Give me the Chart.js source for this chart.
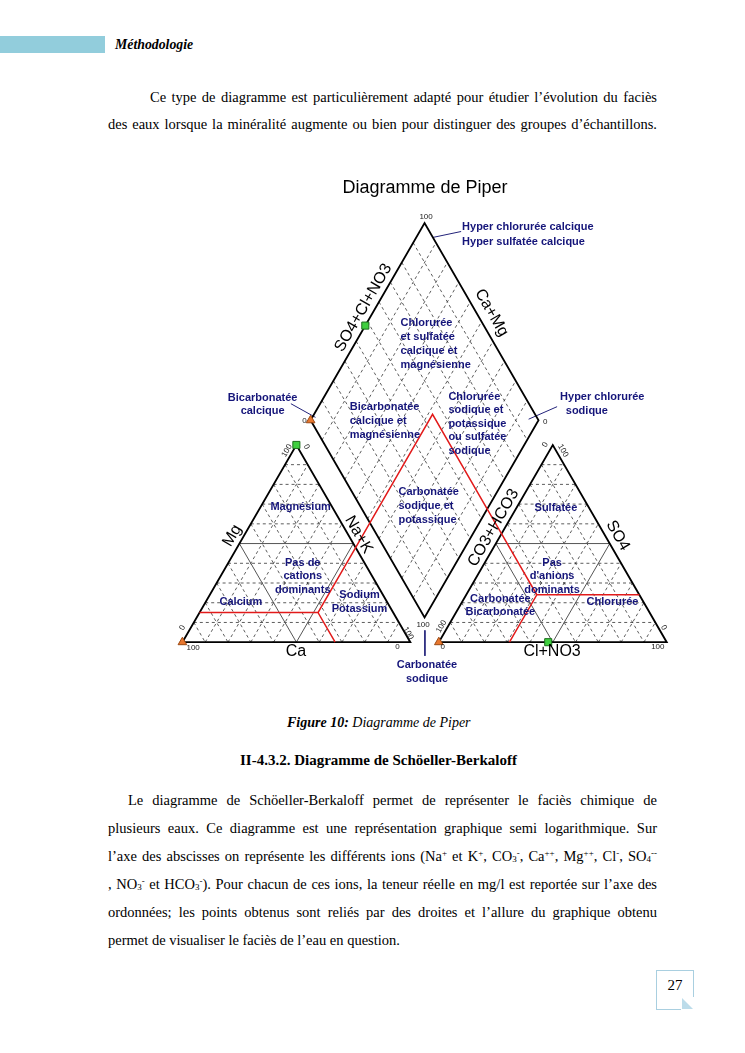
<!DOCTYPE html>
<html>
<head>
<meta charset="utf-8">
<script src="https://cdn.jsdelivr.net/npm/chart.js"></script>
<style>
  body { margin: 0; background: #fff; }
  #page { position: relative; width: 745px; height: 1053px; font-family: "Liberation Serif", "Times New Roman", serif; color: #000; overflow: hidden; }
  .bar { position: absolute; left: 0; top: 36px; width: 105px; height: 17px; background: #92cddc; }
  .head { position: absolute; left: 115px; top: 36px; font-size: 13.8px; line-height: 18px; font-weight: bold; font-style: italic; }
  .ln { position: absolute; font-size: 14.5px; line-height: 20px; white-space: nowrap; }
  .j { text-align: justify; text-align-last: justify; white-space: normal; height: 20px; overflow: visible; }
  sup { font-size: 0.62em; vertical-align: 0.55em; line-height: 0; }
  sub { font-size: 0.62em; vertical-align: -0.15em; line-height: 0; }
  .cap { position: absolute; left: 287px; top: 714px; font-size: 14px; line-height: 18px; font-style: italic; white-space: nowrap; }
  .sec { position: absolute; left: 240px; top: 750px; font-size: 15px; line-height: 20px; font-weight: bold; white-space: nowrap; }
  #piperChart { position: absolute; left: 150px; top: 165px; }
  .pnum { position: absolute; left: 656px; top: 970px; width: 36px; height: 38px; border: 1px solid #a9cfe0; border-right: none; border-bottom: none; }
  .pnum .r { position: absolute; right: -1px; top: -1px; width: 1px; height: 27px; background: #a9cfe0; }
  .pnum .b { position: absolute; left: -1px; bottom: -1px; width: 25px; height: 1px; background: #a9cfe0; }
  .pnum .fold { position: absolute; right: 0; bottom: 0; width: 0; height: 0; border-left: 11px solid #bcdcea; border-top: 11px solid transparent; }
  .pnum span { position: absolute; left: 0; width: 36px; top: 6px; text-align: center; font-size: 15px; }
</style>
</head>
<body>
<div id="page">
  <div class="bar"></div>
  <div class="head">Méthodologie</div>

  <div class="ln j" style="left:150px; top:87px; width:507px;">Ce type de diagramme est particulièrement adapté pour étudier l’évolution du faciès</div>
  <div class="ln j" style="left:108px; top:114px; width:549px;">des eaux lorsque la minéralité augmente ou bien pour distinguer des groupes d’échantillons.</div>

  <canvas id="piperChart" width="550" height="535"></canvas>

  <div class="cap"><b>Figure 10:</b> Diagramme de Piper</div>
  <div class="sec">II-4.3.2. Diagramme de Schöeller-Berkaloff</div>

  <div class="ln j" style="left:128px; top:790px; width:529px;">Le diagramme de Schöeller-Berkaloff permet de représenter le faciès chimique de</div>
  <div class="ln j" style="left:108px; top:818px; width:549px;">plusieurs eaux. Ce diagramme est une représentation graphique semi logarithmique. Sur</div>
  <div class="ln j" style="left:108px; top:846px; width:549px;">l’axe des abscisses on représente les différents ions (Na<sup>+</sup> et K<sup>+</sup>, CO<sub>3</sub><sup>-</sup>, Ca<sup>++</sup>, Mg<sup>++</sup>, Cl<sup>-</sup>, SO<sub>4</sub><sup>--</sup></div>
  <div class="ln j" style="left:108px; top:874px; width:549px;">, NO<sub>3</sub><sup>-</sup> et HCO<sub>3</sub><sup>-</sup>). Pour chacun de ces ions, la teneur réelle en mg/l est reportée sur l’axe des</div>
  <div class="ln j" style="left:108px; top:902px; width:549px;">ordonnées; les points obtenus sont reliés par des droites et l’allure du graphique obtenu</div>
  <div class="ln" style="left:108px; top:930px;">permet de visualiser le faciès de l’eau en question.</div>

  <div class="pnum"><div class="r"></div><div class="b"></div><div class="fold"></div><span>27</span></div>
</div>

<script>
  // échantillons (% meq)
  var sampleNames = ['Echantillon 1', 'Echantillon 2'];
  var pctCa   = [100, 0];
  var pctMg   = [0, 100];
  var pctNaK  = [0, 0];
  var pctHCO3 = [100, 52];
  var pctSO4  = [0, 0];
  var pctCl   = [0, 48];

  // lignes de la grille (%)
  var gridPct = [10, 20, 30, 40, 50, 60, 70, 80, 90];
  var midPct = 50;

  // limites des faciès (traits rouges, %)
  var limMg = 15;
  var limNaK = 52;
  var limCa = 33;
  var limSO4Cl = 55;
  var limSO4 = 24;
  var limCl = 31;

  // geometrie du diagramme
  var GAP = 12.5;
  var SQ = Math.sqrt(3) / 2;
  var PX = 2.33, OX = 27, OY = 482, CW = 550, CH = 535;

  function cationXY(ca, mg, na) { return { x: na + mg / 2, y: mg * SQ }; }
  function anionXY(hco3, so4, cl) { return { x: 100 + GAP + cl + so4 / 2, y: so4 * SQ }; }
  function diamondXY(n, s) {
    var lx = 50 + GAP / 2, ly = GAP * SQ + 100 * SQ;
    return { x: lx + (s + n) / 2, y: ly + (s - n) * SQ };
  }
  function pts(list) {
    var out = [];
    list.forEach(function(seg) {
      seg.forEach(function(p) { out.push(p); });
      out.push({ x: null, y: null });
    });
    return out;
  }

  var dashedSegs = [], midSegs = [];
  gridPct.forEach(function(p) {
    var q = 100 - p;
    var tri = [
      [cationXY(q, p, 0), cationXY(0, p, q)],
      [cationXY(q, 0, p), cationXY(0, q, p)],
      [cationXY(p, q, 0), cationXY(p, 0, q)],
      [anionXY(q, p, 0), anionXY(0, p, q)],
      [anionXY(q, 0, p), anionXY(0, q, p)],
      [anionXY(p, q, 0), anionXY(p, 0, q)]
    ];
    tri.forEach(function(s) { (p === midPct ? midSegs : dashedSegs).push(s); });
    dashedSegs.push([diamondXY(p, 0), diamondXY(p, 100)]);
    dashedSegs.push([diamondXY(0, p), diamondXY(100, p)]);
  });

  var edgeSegs = [
    [cationXY(100, 0, 0), cationXY(0, 0, 100), cationXY(0, 100, 0), cationXY(100, 0, 0)],
    [anionXY(100, 0, 0), anionXY(0, 0, 100), anionXY(0, 100, 0), anionXY(100, 0, 0)],
    [diamondXY(0, 0), diamondXY(0, 100), diamondXY(100, 100), diamondXY(100, 0), diamondXY(0, 0)]
  ];

  var redSegs = [
    [cationXY(limCa, 0, 100 - limCa), cationXY(limCa, limMg, limNaK), cationXY(0, 100 - limNaK, limNaK),
     diamondXY(limNaK, 0), diamondXY(limNaK, limSO4Cl), diamondXY(100, limSO4Cl),
     anionXY(100 - limSO4Cl, limSO4Cl, 0), anionXY(100 - limSO4Cl, limSO4, limCl), anionXY(100 - limCl, 0, limCl)],
    [cationXY(100 - limMg, limMg, 0), cationXY(limCa, limMg, limNaK)],
    [anionXY(100 - limSO4Cl, limSO4, limCl), anionXY(0, limSO4, 100 - limSO4)]
  ];

  // traits de renvoi des annotations
  var pointerSegs = [
    [{ x: 109.9, y: 177.7 }, { x: 122.3, y: 180.3 }],
    [{ x: 47.6, y: 104.7 }, { x: 58.4, y: 98.7 }],
    [{ x: 151.9, y: 97.9 }, { x: 164.4, y: 103.4 }],
    [{ x: 106.4, y: 5.2 }, { x: 106.4, y: -6.0 }]
  ];

  var triPts = [], sqPts = [];
  for (var i = 0; i < sampleNames.length; i++) {
    var c = cationXY(pctCa[i], pctMg[i], pctNaK[i]);
    var a = anionXY(pctHCO3[i], pctSO4[i], pctCl[i]);
    var d = diamondXY(pctNaK[i], pctSO4[i] + pctCl[i]);
    (i === 0 ? triPts : sqPts).push(c, a, d);
  }

  var NAVY = '#15157a';
  var annFont = 'bold 11px "Liberation Sans", Arial, sans-serif';
  var axFont = '16px "Liberation Sans", Arial, sans-serif';
  var tkFont = '8px "Liberation Sans", Arial, sans-serif';

  var annotations = [
    { lines: ['Hyper chlorurée calcique', 'Hyper sulfatée calcique'], x: 122.7, y: 182.4, lh: 15 },
    { lines: ['Chlorurée', 'et sulfatée', 'calcique et', 'magnésienne'], x: 95.7, y: 140.3, lh: 14 },
    { lines: ['Bicarbonatée', 'calcique'], x: 35.2, y: 107.3, align: 'center', lh: 13.5 },
    { lines: ['Bicarbonatée', 'calcique et', 'magnésienne'], x: 73.4, y: 103.4, lh: 14 },
    { lines: ['Chlorurée', 'sodique et', 'potassique', 'ou sulfatée', 'sodique'], x: 116.7, y: 107.7, lh: 13.5 },
    { lines: ['Hyper chlorurée'], x: 165.7, y: 107.7 },
    { lines: ['sodique'], x: 168.2, y: 101.7 },
    { lines: ['Carbonatée', 'sodique et', 'potassique'], x: 94.8, y: 66.1, lh: 14 },
    { lines: ['Magnésium'], x: 38.6, y: 59.2 },
    { lines: ['Pas de', 'cations', 'dominants'], x: 52.8, y: 34.8, align: 'center', lh: 13.5 },
    { lines: ['Calcium'], x: 16.3, y: 17.6 },
    { lines: ['Sodium', 'Potassium'], x: 77.7, y: 20.6, align: 'center', lh: 14 },
    { lines: ['Sulfatée'], x: 154.5, y: 58.8 },
    { lines: ['Pas', "d'anions", 'dominants'], x: 162.2, y: 34.8, align: 'center', lh: 13.5 },
    { lines: ['Carbonatée', 'Bicarbonatée'], x: 139.5, y: 18.9, align: 'center', lh: 13 },
    { lines: ['Chlorurée'], x: 177.3, y: 17.6 },
    { lines: ['Carbonatée', 'sodique'], x: 107.3, y: -9.9, align: 'center', lh: 14 }
  ];
  annotations.forEach(function(l) { l.font = annFont; l.color = NAVY; });

  var axisLabels = [
    { t: 'SO4+Cl+NO3', x: 79.4, y: 146.8, rot: -60 },
    { t: 'Ca+Mg', x: 135.6, y: 144.6, rot: 60 },
    { t: 'Mg', x: 21.9, y: 46.8, rot: -60 },
    { t: 'Na+K', x: 77.3, y: 47.2, rot: 60 },
    { t: 'Ca', x: 49.8, y: -4.3, rot: 0 },
    { t: 'CO3+HCO3', x: 136.5, y: 50.2, rot: -60 },
    { t: 'SO4', x: 191.0, y: 46.8, rot: 60 },
    { t: 'Cl+NO3', x: 162.2, y: -4.3, rot: 0 }
  ];
  var tickLabels = [
    { t: '100', x: 106.9, y: 186.7, rot: 0 },
    { t: '0', x: 53.6, y: 97.0, rot: 0 },
    { t: '0', x: 159.2, y: 96.6, rot: 0 },
    { t: '100', x: 105.6, y: 7.7, rot: 0 },
    { t: '100', x: 4.7, y: -2.6, rot: 0 },
    { t: '0', x: 94.4, y: -2.1, rot: 0 },
    { t: '0', x: 0, y: 6.4, rot: -60 },
    { t: '100', x: 99.1, y: 3.9, rot: 60 },
    { t: '100', x: 45.9, y: 84.1, rot: -60 },
    { t: '0', x: 54.5, y: 85.8, rot: 60 },
    { t: '100', x: 113.7, y: 6.9, rot: -60 },
    { t: '0', x: 114.2, y: -2.1, rot: 0 },
    { t: '100', x: 208.6, y: -2.1, rot: 0 },
    { t: '0', x: 211.2, y: 6.4, rot: 60 },
    { t: '0', x: 159.2, y: 86.7, rot: -60 },
    { t: '100', x: 167.0, y: 84.1, rot: 60 }
  ];
  var textItems = annotations.slice();
  axisLabels.forEach(function(l) { textItems.push({ lines: [l.t], x: l.x, y: l.y, rot: l.rot, align: 'center', font: axFont, color: '#000' }); });
  tickLabels.forEach(function(l) { textItems.push({ lines: [l.t], x: l.x, y: l.y, rot: l.rot, align: 'center', font: tkFont, color: '#222' }); });
  textItems.push({ lines: ['Diagramme de Piper'], x: 106.4, y: 199.5, align: 'center', font: '18px "Liberation Sans", Arial, sans-serif', color: '#000' });

  var textPlugin = {
    id: 'piperText',
    afterDatasetsDraw: function(chart) {
      var ctx = chart.ctx, sx = chart.scales.x, sy = chart.scales.y;
      textItems.forEach(function(l) {
        ctx.save();
        ctx.translate(sx.getPixelForValue(l.x), sy.getPixelForValue(l.y));
        ctx.rotate((l.rot || 0) * Math.PI / 180);
        ctx.font = l.font;
        ctx.fillStyle = l.color;
        ctx.textAlign = l.align || 'left';
        ctx.textBaseline = 'middle';
        l.lines.forEach(function(t, k) { ctx.fillText(t, 0, k * (l.lh || 14)); });
        ctx.restore();
      });
    }
  };

  function lineSet(data, color, width, dash) {
    return { data: data, showLine: true, borderColor: color, borderWidth: width, borderDash: dash || [],
             pointRadius: 0, fill: false, spanGaps: false };
  }

  var ctx = document.getElementById('piperChart').getContext('2d');
  var piperChart = new Chart(ctx, {
    type: 'scatter',
    data: {
      datasets: [
        { label: sampleNames[0], data: triPts, pointStyle: 'triangle', pointRadius: 5,
          backgroundColor: '#e8772e', borderColor: '#9c4a14', borderWidth: 1 },
        { label: sampleNames[1], data: sqPts, pointStyle: 'rect', pointRadius: 5,
          backgroundColor: '#3fcf3f', borderColor: '#1d6e1d', borderWidth: 1 },
        lineSet(pts(redSegs), '#e21a1a', 1.5),
        lineSet(pts(edgeSegs), '#000', 1.8),
        lineSet(pts(pointerSegs), '#23237a', 1),
        lineSet(pts(midSegs), '#555', 1),
        lineSet(pts(dashedSegs), '#333', 0.8, [3, 3])
      ]
    },
    options: {
      responsive: false,
      animation: false,
      layout: { padding: 0 },
      plugins: { legend: { display: false }, tooltip: { enabled: false }, title: { display: false } },
      scales: {
        x: { type: 'linear', display: false, min: -OX / PX, max: (CW - OX) / PX },
        y: { type: 'linear', display: false, min: -(CH - OY) / PX, max: OY / PX }
      }
    },
    plugins: [textPlugin]
  });
</script>
</body>
</html>
